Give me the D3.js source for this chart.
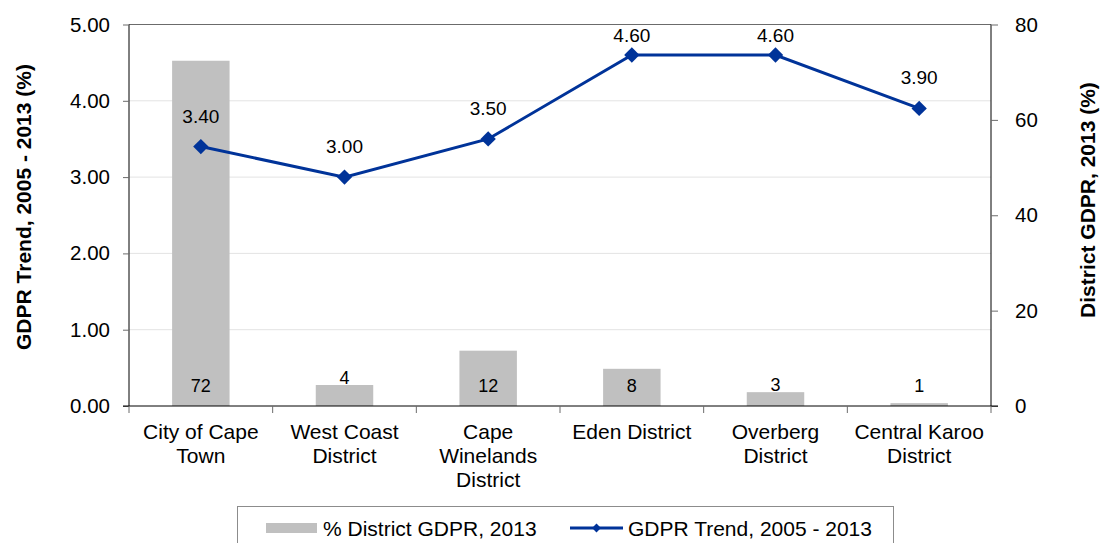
<!doctype html>
<html>
<head>
<script src="https://cdnjs.cloudflare.com/ajax/libs/d3/7.8.5/d3.min.js"></script>
<style>
  body { margin: 0; background: #fff; }
  text { font-family: "Liberation Sans", Arial, sans-serif; fill: #000; }
</style>
</head>
<body>
<svg id="chart" width="1105" height="543"></svg>
<script>
var districts = [["City of Cape", "Town"], ["West Coast", "District"], ["Cape", "Winelands", "District"],
                 ["Eden District"], ["Overberg", "District"], ["Central Karoo", "District"]];
var gdprShare = [72.4, 4.4, 11.6, 7.8, 2.9, 0.6];
var gdprTrend = [3.40, 3.00, 3.50, 4.60, 4.60, 3.90];
var leftTicks = [0, 1, 2, 3, 4, 5];
var rightTicks = [0, 20, 40, 60, 80];

var svg = d3.select("#chart");
var pLeft = 129, pRight = 991, pTop = 24.5, pBottom = 406;

var x = d3.scaleBand().domain(d3.range(districts.length)).range([pLeft, pRight]);
var yL = d3.scaleLinear().domain([0, 5]).range([pBottom, pTop]);
var yR = d3.scaleLinear().domain([0, 80]).range([pBottom, pTop]);

// gridlines
svg.append("g").selectAll("line").data(leftTicks.filter(d => d > 0 && d < 5)).enter()
  .append("line")
  .attr("x1", pLeft).attr("x2", pRight)
  .attr("y1", d => yL(d)).attr("y2", d => yL(d))
  .attr("stroke", "#e3e3e3").attr("stroke-width", 1);
svg.append("line").attr("x1", pLeft).attr("x2", pRight).attr("y1", pTop).attr("y2", pTop)
  .attr("stroke", "#6b6b6b").attr("stroke-width", 1);

// bars
var bw = x.bandwidth() * 0.4;
svg.append("g").selectAll("rect").data(gdprShare).enter()
  .append("rect")
  .attr("x", (d, i) => x(i) + x.bandwidth() / 2 - bw / 2)
  .attr("width", bw)
  .attr("y", d => yR(d))
  .attr("height", d => pBottom - yR(d))
  .attr("fill", "#c0c0c0");

// bar labels sit at the base, or just above a bar too short to hold them
svg.append("g").selectAll("text").data(gdprShare).enter()
  .append("text")
  .attr("x", (d, i) => x(i) + x.bandwidth() / 2)
  .attr("y", function(d) {
    var h = pBottom - yR(d);
    return (h < 8 || yR(d) < 372) ? 391.5 : yR(d) - 1;
  })
  .attr("text-anchor", "middle")
  .style("font-size", "18px")
  .text(d => d3.format(".0f")(d));

// axes
var axL = svg.append("g").attr("transform", "translate(" + pLeft + ",0)")
  .call(d3.axisLeft(yL).tickValues(leftTicks).tickFormat(d3.format(".2f")).tickSize(6).tickPadding(13));
var axR = svg.append("g").attr("transform", "translate(" + pRight + ",0)")
  .call(d3.axisRight(yR).tickValues(rightTicks).tickSize(7).tickPadding(17));
[axL, axR].forEach(function(a) {
  a.select(".domain").attr("stroke", "#000").attr("d", "M0," + pTop + "V" + pBottom);
  a.selectAll(".tick line").attr("stroke", "#6b6b6b");
  a.selectAll("text").style("font-size", "20.5px").attr("fill", "#000")
    .style("font-family", "'Liberation Sans', Arial, sans-serif");
});

var axB = svg.append("g").attr("transform", "translate(0," + pBottom + ")");
axB.append("line").attr("x1", pLeft - 6).attr("x2", pRight + 7).attr("stroke", "#000");
axB.selectAll(".sep").data(d3.range(districts.length + 1)).enter()
  .append("line")
  .attr("x1", i => pLeft + i * x.step()).attr("x2", i => pLeft + i * x.step())
  .attr("y1", 0).attr("y2", 7).attr("stroke", "#6b6b6b");

svg.append("g").selectAll("text").data(districts).enter()
  .append("text")
  .attr("text-anchor", "middle")
  .style("font-size", "21px")
  .each(function(lines, i) {
    d3.select(this).selectAll("tspan").data(lines).enter()
      .append("tspan")
      .attr("x", x(i) + x.bandwidth() / 2)
      .attr("y", (l, j) => 439 + j * 24)
      .text(l => l);
  });

// trend line
var line = d3.line().x((d, i) => x(i) + x.bandwidth() / 2).y(d => yL(d));
svg.append("path").datum(gdprTrend).attr("d", line)
  .attr("fill", "none").attr("stroke", "#003399").attr("stroke-width", 3);
svg.append("g").selectAll("path").data(gdprTrend).enter()
  .append("path")
  .attr("d", d3.symbol().type(d3.symbolDiamond2).size(150))
  .attr("transform", (d, i) => "translate(" + (x(i) + x.bandwidth() / 2) + "," + yL(d) + ")")
  .attr("fill", "#003399");
svg.append("g").selectAll("text").data(gdprTrend).enter()
  .append("text")
  .attr("x", (d, i) => x(i) + x.bandwidth() / 2)
  .attr("y", d => Math.max(yL(d) - 24, 42))
  .attr("text-anchor", "middle")
  .style("font-size", "19px")
  .text(d => d3.format(".2f")(d));

// axis titles
svg.append("text")
  .attr("transform", "translate(31,207) rotate(-90)")
  .attr("text-anchor", "middle")
  .style("font-size", "21px").style("font-weight", "bold")
  .text("GDPR Trend, 2005 - 2013 (%)");
svg.append("text")
  .attr("transform", "translate(1095,200) rotate(-90)")
  .attr("text-anchor", "middle")
  .style("font-size", "21px").style("font-weight", "bold")
  .text("District GDPR, 2013 (%)");

// legend
var lg = svg.append("g");
lg.append("rect").attr("x", 237.5).attr("y", 506.5).attr("width", 656).attr("height", 50)
  .attr("fill", "#fff").attr("stroke", "#8c8c8c");
lg.append("rect").attr("x", 266).attr("y", 523).attr("width", 51).attr("height", 10).attr("fill", "#c0c0c0");
lg.append("text").attr("x", 323).attr("y", 535.5).style("font-size", "21px").text("% District GDPR, 2013");
lg.append("line").attr("x1", 570).attr("x2", 623).attr("y1", 528).attr("y2", 528)
  .attr("stroke", "#003399").attr("stroke-width", 3);
lg.append("path").attr("d", d3.symbol().type(d3.symbolDiamond2).size(50))
  .attr("transform", "translate(596.5,528)").attr("fill", "#003399");
lg.append("text").attr("x", 628).attr("y", 535.5).style("font-size", "21px").text("GDPR Trend, 2005 - 2013");
</script>
</body>
</html>
